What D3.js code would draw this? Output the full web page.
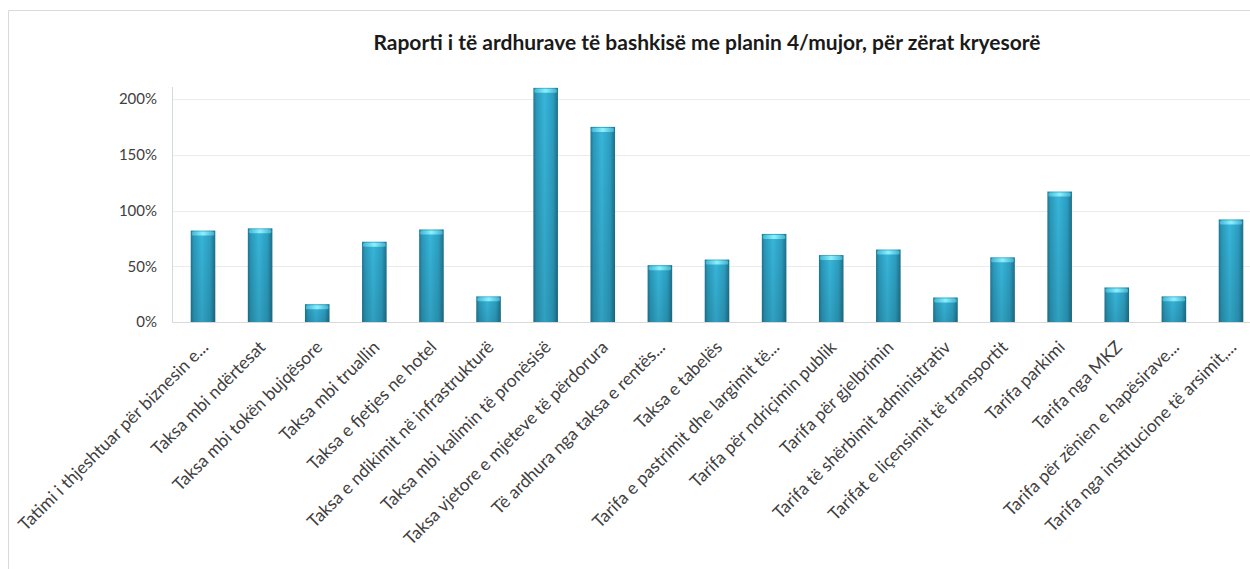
<!DOCTYPE html>
<html>

<head>
    <meta charset="utf-8">
    <script src="https://d3js.org/d3.v7.min.js"></script>
    <style>
        body { margin: 0; background: #fff; }
        text { font-family: Lato, "Open Sans", sans-serif; }
    </style>
</head>

<body>
    <div id="my_dataviz"></div>
    <script>
    // data (percent of the 4-month plan)
    var categories = [
        "Tatimi i thjeshtuar për biznesin e...",
        "Taksa mbi ndërtesat",
        "Taksa mbi tokën bujqësore",
        "Taksa mbi truallin",
        "Taksa e fjetjes ne hotel",
        "Taksa e ndikimit në infrastrukturë",
        "Taksa mbi kalimin të pronësisë",
        "Taksa vjetore e mjeteve të përdorura",
        "Të ardhura nga taksa e rentës...",
        "Taksa e tabelës",
        "Tarifa e pastrimit dhe largimit të...",
        "Tarifa për ndriçimin publik",
        "Tarifa për gjelbrimin",
        "Tarifa të shërbimit administrativ",
        "Tarifat e liçensimit të transportit",
        "Tarifa parkimi",
        "Tarifa nga MKZ",
        "Tarifa për zënien e hapësirave...",
        "Tarifa nga institucione të arsimit,..."
    ];
    var values = [82, 84, 16, 72, 83, 23, 210, 175, 51, 56, 79, 60, 65, 22, 58, 117, 31, 23, 92];
    var yTicks = [0, 50, 100, 150, 200];
    var title = "Raporti i të ardhurave të bashkisë me planin 4/mujor, për zërat kryesorë";

    var width = 1250,
        height = 569;
    var plot = { left: 172, top: 87, bottom: 322, right: 1250 };

    var svg = d3.select("#my_dataviz")
        .append("svg")
        .attr("width", width)
        .attr("height", height);

    // gradients for the bars
    var defs = svg.append("defs");
    var side = defs.append("linearGradient").attr("id", "barSide")
        .attr("x1", "0").attr("x2", "1").attr("y1", "0").attr("y2", "0");
    [["0%", "#1f7690"], ["12%", "#2a98ba"], ["45%", "#37b6da"], ["80%", "#2c9ec1"], ["100%", "#1e6f88"]]
        .forEach(function(s) { side.append("stop").attr("offset", s[0]).attr("stop-color", s[1]); });
    var shade = defs.append("linearGradient").attr("id", "barShade")
        .attr("x1", "0").attr("x2", "0").attr("y1", "0").attr("y2", "1");
    shade.append("stop").attr("offset", "0%").attr("stop-color", "#000").attr("stop-opacity", 0);
    shade.append("stop").attr("offset", "100%").attr("stop-color", "#000").attr("stop-opacity", 0.12);
    var cap = defs.append("linearGradient").attr("id", "barCap")
        .attr("x1", "0").attr("x2", "1").attr("y1", "0").attr("y2", "0");
    [["0%", "#3fb7d4"], ["50%", "#8ff0fb"], ["100%", "#3fb0cf"]]
        .forEach(function(s) { cap.append("stop").attr("offset", s[0]).attr("stop-color", s[1]); });

    // chart border
    svg.append("path")
        .attr("d", "M8.5," + height + "V10.5H" + width)
        .attr("fill", "none")
        .attr("stroke", "#d9d9d9");

    var step = (1231 - 203) / (categories.length - 1);
    var x = d3.scaleBand()
        .domain(categories)
        .range([203 - step / 2, 203 - step / 2 + step * categories.length])
        .paddingInner(0.57)
        .paddingOuter(0.285);

    var y = d3.scaleLinear()
        .domain([0, 200])
        .range([plot.bottom, 99]);

    // gridlines
    svg.append("g")
        .selectAll("line")
        .data(yTicks)
        .enter()
        .append("line")
        .attr("x1", plot.left)
        .attr("x2", plot.right)
        .attr("y1", function(d) { return Math.round(y(d)) + 0.5; })
        .attr("y2", function(d) { return Math.round(y(d)) + 0.5; })
        .style("stroke", function(d) { return d == 0 ? "#d9d9d9" : "#ebebeb"; });

    // y axis
    var yAxis = svg.append("g")
        .attr("transform", "translate(" + plot.left + ",0)")
        .call(d3.axisLeft(y).tickValues(yTicks).tickSize(0).tickPadding(15)
            .tickFormat(function(d) { return d + "%"; }));
    yAxis.select(".domain").remove();
    yAxis.selectAll("text")
        .style("font-size", "15px")
        .style("fill", "#404040");
    svg.append("line")
        .attr("x1", plot.left + 0.5).attr("x2", plot.left + 0.5)
        .attr("y1", plot.top).attr("y2", plot.bottom)
        .style("stroke", "#d0d8e0");

    // bars
    var bars = svg.append("g")
        .selectAll("g")
        .data(values)
        .enter()
        .append("g");

    bars.append("rect")
        .attr("x", function(d, i) { return x(categories[i]); })
        .attr("y", function(d) { return y(d); })
        .attr("width", x.bandwidth())
        .attr("height", function(d) { return y(0) - y(d); })
        .style("fill", "url(#barSide)");

    bars.append("rect")
        .attr("x", function(d, i) { return x(categories[i]); })
        .attr("y", function(d) { return y(d); })
        .attr("width", x.bandwidth())
        .attr("height", function(d) { return y(0) - y(d); })
        .style("fill", "url(#barShade)");

    bars.append("rect")
        .attr("x", function(d, i) { return x(categories[i]) + 1; })
        .attr("y", function(d) { return y(d) + 1; })
        .attr("width", x.bandwidth() - 2)
        .attr("height", 4)
        .attr("rx", 1.5)
        .style("fill", "url(#barCap)");

    // category labels
    svg.append("g")
        .selectAll("text")
        .data(categories)
        .enter()
        .append("text")
        .attr("transform", function(d) {
            return "translate(" + (x(d) + x.bandwidth() / 2 + 2) + "," + (plot.bottom + 22) + ") rotate(-45)";
        })
        .attr("text-anchor", "end")
        .attr("dy", "0.35em")
        .style("font-size", "17.5px")
        .style("fill", "#404040")
        .text(function(d) { return d; });

    // title
    svg.append("text")
        .attr("x", 707)
        .attr("y", 50)
        .attr("text-anchor", "middle")
        .style("font-size", "21px")
        .style("font-weight", "bold")
        .style("fill", "#1a1a1a")
        .text(title);
    </script>
</body>

</html>
